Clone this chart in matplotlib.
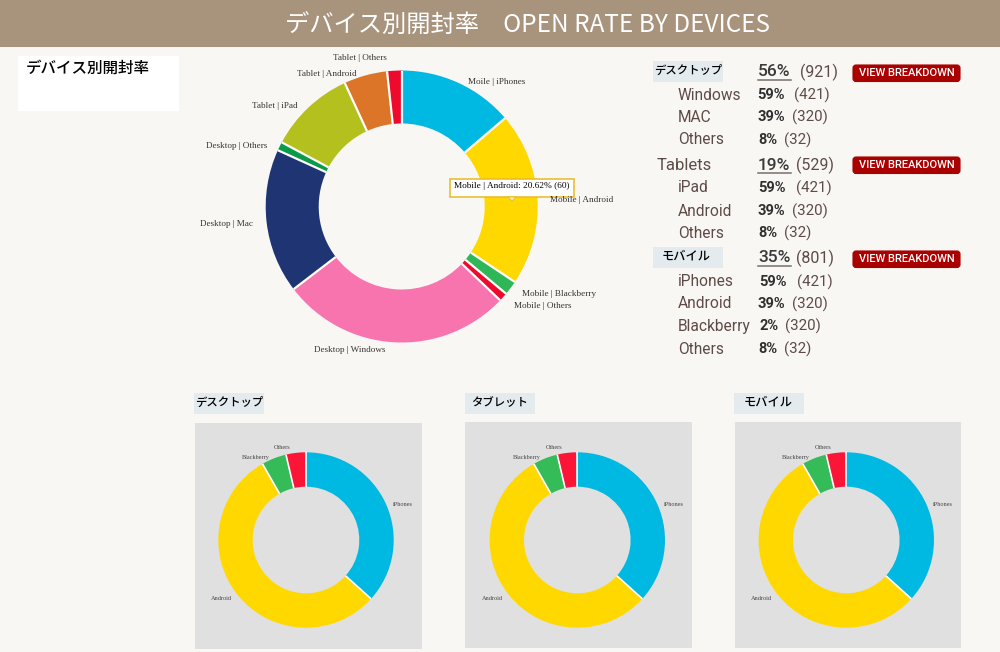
import numpy as np
import matplotlib
matplotlib.use("Agg")
import matplotlib.pyplot as plt
import matplotlib.patches as patches

W, H = 1000, 652
JP = ['Noto Sans CJK JP', 'DejaVu Sans']
SERIF = 'Liberation Serif'
BG = '#f8f7f3'

# main donut
main_labels = ['Moile | iPhones', 'Mobile | Android', 'Mobile | Blackberry', 'Mobile | Others',
               'Desktop | Windows', 'Desktop | Mac', 'Desktop | Others',
               'Tablet | iPad', 'Tablet | Android', 'Tablet | Others']
main_values = [40, 60, 5, 3, 80, 50, 3, 30, 15, 5]
main_colors = ['#00b9e3', '#ffd800', '#2fb757', '#ee0a2c', '#f774ae', '#1f3473', '#0a9a48',
               '#b3c01e', '#dc7527', '#ee0a2c']

# small donuts
small_labels = ['iPhones', 'Android', 'Blackberry', 'Others']
small_values = [40, 60, 5, 4]
small_colors = ['#00b9e3', '#ffd800', '#36bb59', '#fb1537']
small_titles = ['デスクトップ', 'タブレット', 'モバイル']

# right hand table
groups = ['デスクトップ', 'Tablets', 'モバイル']
group_pct = ['56%', '19%', '35%']
group_cnt = ['(921)', '(529)', '(801)']
rows_names = [['Windows', 'MAC', 'Others'], ['iPad', 'Android', 'Others'],
              ['iPhones', 'Android', 'Blackberry', 'Others']]
rows_pct = [['59%', '39%', '8%'], ['59%', '39%', '8%'], ['59%', '39%', '2%', '8%']]
rows_cnt = [['(421)', '(320)', '(32)'], ['(421)', '(320)', '(32)'], ['(421)', '(320)', '(320)', '(32)']]


def donut(cx, cy, r_out, r_in, values, colors, gap):
    # axes placed in pixel coordinates, a bit bigger than the ring
    box = r_out * 1.02
    a = fig.add_axes([(cx - box) / W, 1 - (cy + box) / H, 2 * box / W, 2 * box / H])
    a.pie(values, colors=colors, startangle=90, counterclock=False, radius=r_out / box,
          wedgeprops=dict(width=(r_out - r_in) / box, linewidth=0))
    # white separators only between slices, no outline on the arcs
    ends = np.cumsum(values) / np.sum(values) * 2 * np.pi
    for t in ends:
        a.plot([r_in / box * np.sin(t), r_out / box * np.sin(t)],
               [r_in / box * np.cos(t), r_out / box * np.cos(t)],
               color='white', lw=gap, solid_capstyle='butt')
    a.set_xlim(-1, 1)
    a.set_ylim(-1, 1)
    a.set_aspect('equal')
    a.patch.set_alpha(0)
    a.set_zorder(1)


fig = plt.figure(figsize=(W / 100, H / 100), dpi=100, facecolor=BG)
ax = fig.add_axes([0, 0, 1, 1])
ax.set_xlim(0, W)
ax.set_ylim(H, 0)
ax.set_axis_off()

over = fig.add_axes([0, 0, 1, 1])
over.set_xlim(0, W)
over.set_ylim(H, 0)
over.set_axis_off()
over.patch.set_alpha(0)
over.set_zorder(5)

# header
ax.add_patch(patches.Rectangle((0, 0), W, 47, color='#a8937d', lw=0))
ax.text(527, 26, 'デバイス別開封率　OPEN RATE BY DEVICES', color='white', fontsize=17.5,
        ha='center', va='center', family=JP)

# top left box
ax.add_patch(patches.Rectangle((18, 56), 161, 55, color='white', lw=0))
ax.text(26, 68, 'デバイス別開封率', fontsize=11.2, ha='left', va='center', family=JP,
        fontweight='medium', color='black')

donut(401.7, 206.5, 136, 83, main_values, main_colors, 1.6)

main_pos = [(468, 81), (550, 200), (522, 293), (514, 306), (314, 349), (200, 224), (206, 146),
            (252, 106), (297, 73), (333, 58)]
for lab, (x, y) in zip(main_labels, main_pos):
    over.text(x, y + 0.5, lab, family=SERIF, fontsize=6.6, color='#333333', ha='left', va='center')

# tooltip
over.add_patch(patches.Rectangle((449.5, 178.5), 124, 18.5, fc='white', ec='#e8b923', lw=1.1))
over.add_patch(patches.Polygon([(508, 197), (516, 197), (512, 201)], fc='#f5f0d0', ec='#e8b923', lw=0.6))
over.text(454, 186.5, 'Mobile | Android: 20.62% (60)', family=SERIF, fontsize=6.7, color='black',
          ha='left', va='center')

# table on the right
DIN = 'Roboto'
name_col = '#5e4b48'
num_col = '#2f2f2f'
head_y = [71, 164, 257]
line_y = [79.5, 173, 266]
btn_y = [73, 165, 259]
row_y = [[94, 116, 139], [187, 210, 232], [281, 303, 325, 348]]
pct_x = [[757, 758, 758], [758, 758, 758], [759, 758, 759, 758]]
cnt_x = [[794, 792, 784], [796, 792, 784], [797, 792, 785, 784]]
head_cnt_x = [800, 796, 796]
head_txt_x = [654, 657, 662]
head_size = [8.2, 12, 8.8]

for i, g in enumerate(groups):
    y = head_y[i]
    if i != 1:
        ax.add_patch(patches.Rectangle((653, y - 10), 70, 21, color='#e3ebef', lw=0))
        ax.text(head_txt_x[i], y - 1, g, family=JP, fontsize=head_size[i], color='black',
                ha='left', va='center', fontweight='medium')
    else:
        ax.text(head_txt_x[i], y + 1, g, family=DIN, fontsize=head_size[i], color=name_col,
                ha='left', va='center')
    ax.text(758, y + 1, group_pct[i], family=DIN, fontsize=12.5, color='#3a3a3a', ha='left',
            va='center', fontweight='medium')
    ax.plot([757.5, 791], [line_y[i], line_y[i]], color='#77706a', lw=1.1)
    ax.text(head_cnt_x[i], y + 1, group_cnt[i], family=DIN, fontsize=11.5, color=name_col,
            ha='left', va='center')
    # red button
    ax.add_patch(patches.FancyBboxPatch((853, btn_y[i] - 8), 107, 16.5,
                                        boxstyle='round,pad=0,rounding_size=3',
                                        fc='#a90000', ec='#a90000', lw=0.8))
    ax.text(906.5, btn_y[i] + 0.5, 'VIEW BREAKDOWN', family=DIN, fontsize=8, color='white',
            ha='center', va='center', fontweight='medium')
    for j, name in enumerate(rows_names[i]):
        ry = row_y[i][j] + 1
        ax.text(678, ry, name, family=DIN, fontsize=11.2, color=name_col, ha='left', va='center')
        ax.text(pct_x[i][j], ry, rows_pct[i][j], family=DIN, fontsize=10.5, color=num_col, ha='left',
                va='center', fontweight='bold')
        ax.text(cnt_x[i][j], ry, rows_cnt[i][j], family=DIN, fontsize=10.8, color=name_col, ha='left',
                va='center')

# small panels along the bottom
panel_x = [195, 465, 734.5]
panel_y = [423, 422, 422]
title_box = [(194, 70), (465, 70), (734, 70)]
title_txt = [195, 471, 744]
title_size = [8.2, 8.2, 8.8]
centers = [306, 577.3, 846.3]
for k in range(3):
    ax.add_patch(patches.Rectangle((panel_x[k], panel_y[k]), 226.5, 226.3, color='#e0e0e0', lw=0))
    ax.add_patch(patches.Rectangle((title_box[k][0], 393), title_box[k][1], 21, color='#e3ebef', lw=0))
    ax.text(title_txt[k], 402.5, small_titles[k], family=JP, fontsize=title_size[k], color='black',
            ha='left', va='center', fontweight='medium')
    donut(centers[k], 540, 87.7, 53.3, small_values, small_colors, 1.2)
    cx = centers[k]
    small_pos = [(cx + 87, 504), (cx - 95, 598), (cx - 64.5, 457), (cx - 32, 447.5)]
    for lab, (x, y) in zip(small_labels, small_pos):
        over.text(x, y, lab, family=SERIF, fontsize=4.5, color='#444444', ha='left', va='center')

fig.savefig('out.png', dpi=100, facecolor=BG)
